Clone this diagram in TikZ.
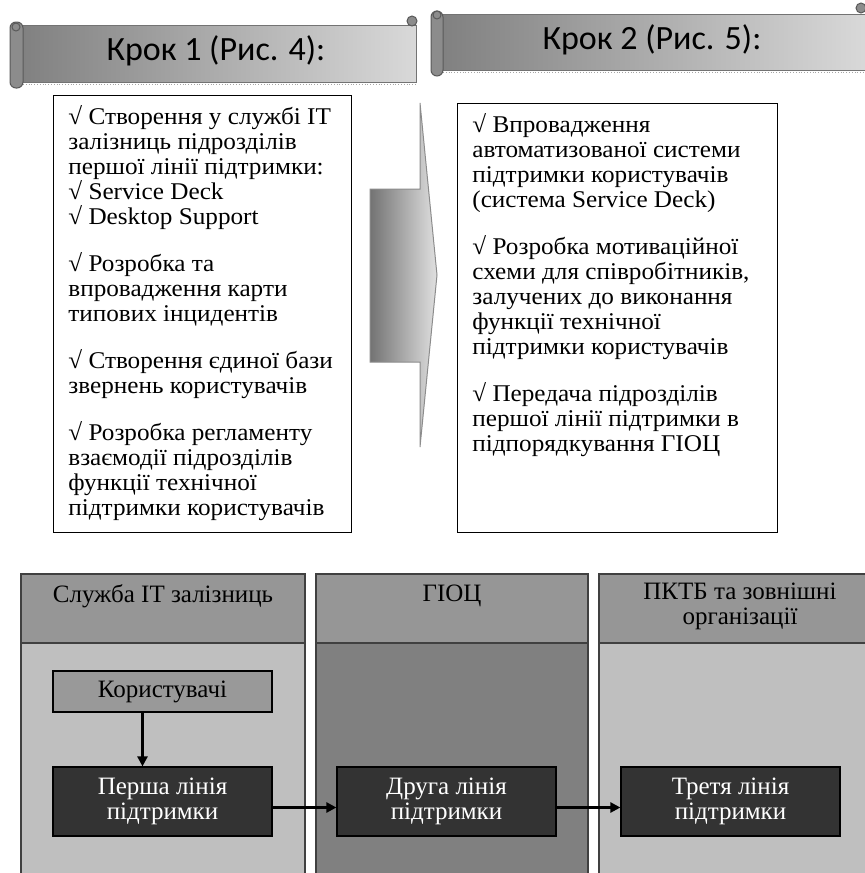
\documentclass[tikz,border=0pt]{standalone}
\usepackage{fontspec}
\setmainfont{Liberation Serif}
\newfontfamily\bannerfont{Carlito}
\newfontfamily\widefont{Liberation Serif}[FakeStretch=1.05]
\usetikzlibrary{
    arrows.meta,
    calc,
    positioning
}

\tikzset{
    banner/.style={left color=black!50, right color=black!15, draw=black!55, line width=0.5pt},
    roll/.style={fill=black!45, draw=black!65, line width=0.5pt},
    bannertext/.style={font=\bannerfont\fontsize{17}{19}\selectfont},
    listbox/.style={draw=black, line width=0.6pt, fill=white, anchor=north west},
    listtext/.style={font=\widefont\fontsize{12}{12.5}\selectfont, align=left, inner sep=0pt, anchor=north west},
    stepflow/.style={left color=black!55, right color=black!12, draw=black!45, line width=0.5pt},
    lane/.style={draw=black!75, line width=0.6pt},
    lanehead/.style={lane, fill=black!41},
    lanetext/.style={font=\fontsize{12.5}{12.5}\selectfont, align=center},
    dutybox/.style={draw=black, line width=0.6pt, fill=black!80, text=white,
        minimum width=109.5pt, minimum height=34.5pt, align=center,
        font=\fontsize{12.5}{12.5}\selectfont},
    userbox/.style={dutybox, fill=black!40, text=black, minimum height=20.5pt},
    flow/.style={-{Triangle[length=5pt,width=5pt]}, line width=1.2pt}
}

\begin{document}
\begin{tikzpicture}[x=0.5pt,y=-0.5pt]
\useasboundingbox (0,0) rectangle (864,873);

% Banners
\draw[banner] (17,25) rectangle (416,82);
\draw[densely dotted, black!35] (23,84) -- (416,84);
\draw[roll, rounded corners=3pt] (10,22) rectangle (23,88);
\draw[roll] (16,27) circle (2pt);
\draw[roll] (412,21) circle (2.5pt);
\node[bannertext] (krok1) at (216,51) {Крок 1 (Рис. 4):};

\draw[banner] (437,14) rectangle (866,70);
\draw[densely dotted, black!35] (443,72) -- (866,72);
\draw[roll, rounded corners=3pt] (431,11) rectangle (443,76);
\draw[roll] (437,15) circle (2pt);
\draw[roll] (861,8) circle (2.5pt);
\node[bannertext] (krok2) at (652,40) {Крок 2 (Рис. 5):};

% Step boxes
\node[listbox, minimum width=149pt, minimum height=218.5pt] (step1) at (53,95) {};
\node[listtext] (list1) at ($(step1.north west)+(15,10)$) {%
√ Створення у службі IT\\
залізниць підрозділів\\
першої лінії підтримки:\\
√ Service Deck\\
√ Desktop Support\\[11pt]
√ Розробка та\\
впровадження карти\\
типових інцидентів\\[11pt]
√ Створення єдиної бази\\
звернень користувачів\\[11pt]
√ Розробка регламенту\\
взаємодії підрозділів\\
функції технічної\\
підтримки користувачів};

\node[listbox, minimum width=160pt, minimum height=214.5pt] (step2) at (457,103) {};
\node[listtext] (list2) at ($(step2.north west)+(15,10)$) {%
√ Впровадження\\
автоматизованої системи\\
підтримки користувачів\\
(система Service Deck)\\[11pt]
√ Розробка мотиваційної\\
схеми для співробітників,\\
залучених до виконання\\
функції технічної\\
підтримки користувачів\\[11pt]
√ Передача підрозділів\\
першої лінії підтримки в\\
підпорядкування ГІОЦ};

% Big arrow
\draw[stepflow] (370,189) -- (420,189) -- (420,103) -- (437,275)
    -- (420,447) -- (420,362) -- (370,362) -- cycle;

% Lanes
\draw[lane, fill=black!25] (21,643) rectangle (305,878);
\draw[lanehead] (21,574) rectangle (305,643);
\draw[lane, fill=black!50] (316,643) rectangle (588,878);
\draw[lanehead] (316,574) rectangle (588,643);
\draw[lane, fill=black!25] (599,643) rectangle (868,878);
\draw[lanehead] (599,574) rectangle (868,643);

\node[lanetext] (lane1) at (163,596) {Служба IT залізниць};
\node[lanetext] (lane2) at (452,596) {ГІОЦ};
\node[lanetext] (lane3) at (740,606) {ПКТБ та зовнішні\\організації};

% Support lines
\node[userbox] (users) at (162.5,691.5) {Користувачі};
\node[dutybox] (first) at (162.5,801.5) {Перша лінія\\підтримки};
\node[dutybox] (second) at (446.5,801.5) {Друга лінія\\підтримки};
\node[dutybox] (third) at (730.5,801.5) {Третя лінія\\підтримки};

\draw[flow] ([xshift=-10pt]users.south) -- ([xshift=-10pt]first.north);
\draw[flow] ([yshift=-3pt]first.east) -- ([yshift=-3pt]second.west);
\draw[flow] ([yshift=-3pt]second.east) -- ([yshift=-3pt]third.west);

\end{tikzpicture}
\end{document}
